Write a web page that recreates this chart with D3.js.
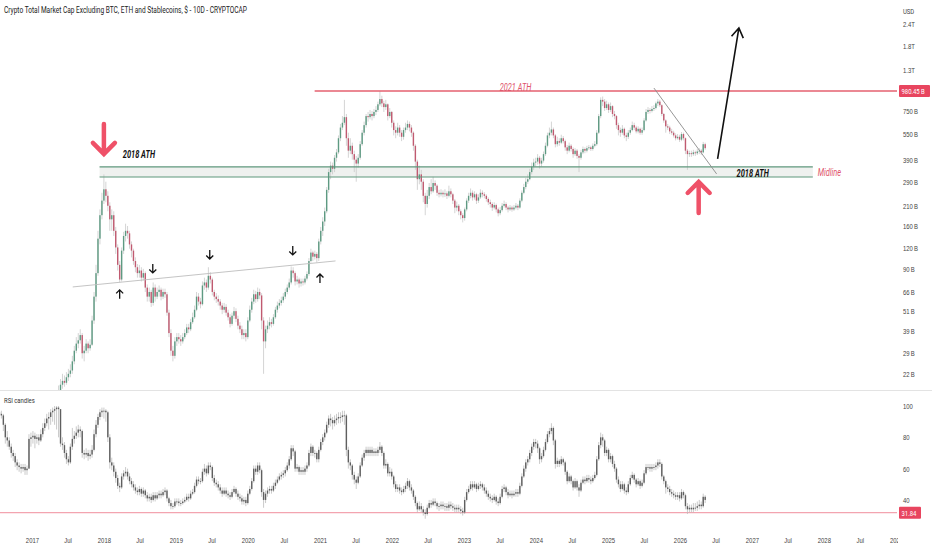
<!DOCTYPE html>
<html>
<head>
<meta charset="utf-8">
<script src="https://cdn.jsdelivr.net/npm/d3@7"></script>
<style>
  body { margin: 0; background: #fff; }
  svg { display: block; font-family: Roboto, "Liberation Sans", sans-serif; }
</style>
</head>
<body>
<div id="chart"></div>
<script>
// 10D candles, first one opens 2016-07-20
var startDate = new Date(2016, 6, 20);
var stepDays = 10;
var firstOpen = 2.9;
var rsiFirstOpen = 96;

// price in billions USD
var closes = [
  3.0,3.1,2.9,2.8,2.7,2.6,2.6,2.5,2.4,2.5,
  2.4,2.3,2.4,2.4,2.5,2.6,2.7,2.9,3.0,3.2,
  3.5,4.0,4.6,5.5,6.8,8.0,9.5,11.5,13.0,15.5,
  17.5,19,20,19.5,21,22,23,26,30,33,
  34.5,37,29,30,33,31,32.5,45,62,85,
  135,185,225,262,240,210,175,185,150,120,
  95,78,115,140,150,145,125,115,100,92,
  85,88,80,85,70,62,66,57,70,62,
  66,68,62,66,64,50,38,30,28,34,
  36,35,34,36,38,41,40,44,47,52,
  62,58,56,72,75,70,82,78,66,62,
  60,58,55,52,54,50,47,43,48,51,
  46,42,40,37,38,36,45,52,58,64,
  60,66,63,45,34,40,42,44,43,47,
  52,55,57,59,62,66,70,75,88,85,
  76,78,74,76,75,79,84,100,112,106,
  110,104,130,150,170,195,260,330,360,345,
  400,430,520,600,640,690,520,440,470,420,
  390,370,400,480,560,620,700,690,720,700,
  740,760,820,880,830,790,820,700,740,640,
  580,560,600,560,530,580,600,630,600,560,
  470,380,300,320,290,240,215,240,270,255,
  285,275,250,245,250,245,248,240,255,245,
  225,205,210,195,185,178,200,225,240,250,
  235,245,225,235,250,245,240,230,220,215,
  205,212,200,190,198,210,215,205,200,205,
  200,205,210,205,225,250,270,290,300,330,
  355,375,380,400,370,385,420,470,540,560,
  585,540,480,500,490,520,500,460,440,470,
  450,420,440,410,400,430,450,440,455,460,
  450,470,480,560,700,870,850,780,820,760,
  800,720,700,620,580,560,590,540,530,560,
  580,620,600,570,590,560,580,660,740,760,
  750,770,780,830,850,810,720,660,610,600,
  570,560,540,520,530,510,550,520,440,420,
  425,420,430,425,435,440,430,480,455
];
var highs = [
  3.2,3.3,3.2,3.0,2.9,2.8,2.7,2.7,2.6,2.6,
  2.6,2.5,2.5,2.5,2.6,2.7,2.8,3.0,3.2,3.4,
  3.7,4.2,4.9,5.9,7.2,8.6,10.2,12.3,14.2,16.8,
  18.8,20.5,22,21.5,22.5,23.5,25,28,32,36,
  38,40,38,32,35,34,35,48,66,95,
  150,200,250,320,290,255,220,200,195,158,
  125,100,120,148,165,160,150,130,118,105,
  96,95,92,90,87,73,70,68,75,73,
  70,72,70,69,69,66,52,40,32,36,
  38,38,37,38,40,43,43,46,50,55,
  66,65,61,76,80,78,92,86,80,68,
  65,63,60,57,57,56,52,49,50,54,
  53,48,44,42,40,40,47,55,61,68,
  67,70,69,65,47,42,45,47,46,49,
  54,58,60,62,65,69,73,79,93,92,
  87,82,80,79,79,82,87,104,118,115,
  115,113,135,158,180,205,270,345,380,375,
  415,450,540,630,700,870,720,560,520,490,
  440,410,420,500,580,650,720,740,760,750,
  770,800,850,980,920,860,870,830,780,750,
  660,610,640,620,580,600,640,660,650,620,
  570,480,390,360,340,300,250,260,285,300,
  310,295,280,260,262,258,262,255,275,265,
  250,230,222,215,200,190,205,232,250,265,
  258,255,250,245,262,258,252,245,235,228,
  220,220,216,205,206,218,225,220,210,212,
  210,212,218,215,232,258,282,305,320,345,
  375,395,400,420,410,400,435,490,560,600,
  650,600,550,530,520,545,535,510,475,490,
  480,460,455,450,420,445,465,460,470,475,
  470,485,500,580,720,900,910,880,860,840,
  840,810,750,710,640,600,620,600,560,580,
  600,650,640,615,610,600,600,680,770,790,
  780,800,810,850,880,870,820,730,670,630,
  615,590,575,555,550,545,565,560,525,450,
  440,440,445,440,450,455,450,495,490
];
var lows = [
  2.8,2.9,2.8,2.7,2.6,2.5,2.5,2.4,2.3,2.3,
  2.3,2.2,2.2,2.3,2.3,2.4,2.5,2.6,2.8,2.9,
  3.1,3.4,3.9,4.4,5.3,6.5,7.7,9.1,11.0,12.5,
  15.0,16.8,18,18.5,19,20,21,22,25,29,
  31,33,27,26,29,29,30,32,43,58,
  82,125,175,215,220,195,150,150,140,110,
  88,75,76,110,130,135,118,105,95,86,
  80,80,76,77,66,58,58,54,55,58,
  60,62,59,60,61,48,36,28,26,27,
  32,33,32,33,35,37,38,39,43,46,
  51,55,53,55,68,66,68,74,63,59,
  57,55,52,49,50,48,45,41,42,46,
  44,40,38,35,35,34,35,44,50,56,
  57,58,60,40,22,31,38,40,41,42,
  46,50,53,55,57,60,64,68,73,80,
  72,73,70,71,72,73,77,82,98,100,
  102,98,100,125,140,160,190,250,300,320,
  330,380,420,500,580,620,470,400,420,390,
  330,290,350,390,470,540,600,650,670,660,
  680,710,740,800,790,740,760,660,680,600,
  540,520,540,530,500,510,560,580,570,530,
  440,340,260,280,260,220,185,205,230,245,
  250,260,240,235,238,235,236,230,235,235,
  215,190,195,185,175,168,172,195,218,232,
  225,228,215,218,230,235,232,222,212,205,
  196,200,192,182,185,194,205,198,192,196,
  194,196,200,198,202,220,245,262,282,295,
  320,340,355,365,345,355,375,410,460,520,
  540,520,460,465,470,480,485,440,420,430,
  435,400,410,395,330,390,420,425,430,445,
  438,440,460,470,550,680,800,750,760,730,
  740,690,670,590,540,530,545,520,500,515,
  545,570,580,555,555,545,545,570,650,720,
  725,735,750,765,800,790,700,640,560,580,
  550,545,525,505,510,495,500,505,420,340,
  405,405,410,410,415,420,415,425,445
];

// RSI candles
var rsiClose = [
  95,94,88,80,78,74,70,68,64,62,
  61,60,61,59,60,79,80,81,79,80,
  78,82,86,89,92,93,96,97,98,99,
  98,76,75,70,66,64,74,79,81,83,
  85,84,70,69,70,68,69,72,82,88,
  93,96,97,97,96,80,64,62,58,54,
  49,48,55,57,58,55,52,50,48,46,
  45,47,44,46,43,41,42,40,43,41,
  43,44,43,45,46,41,38,36,36,39,
  39,38,38,39,40,42,41,44,45,49,
  53,52,52,58,60,57,62,61,54,51,
  50,48,46,44,46,44,43,42,45,47,
  44,42,41,39,40,38,44,47,52,60,
  58,62,59,45,40,44,46,47,46,49,
  51,53,55,56,57,59,62,66,73,71,
  60,61,58,59,58,60,62,70,74,70,
  70,66,72,77,80,83,88,92,91,89,
  91,92,93,93,94,94,72,64,62,56,
  53,51,55,62,67,70,72,70,72,70,
  71,70,72,74,70,62,63,57,58,55,
  50,47,48,46,45,47,49,52,48,46,
  42,38,34,36,34,32,31,35,38,37,
  39,38,36,36,37,36,36,35,37,36,
  35,34,35,34,33,32,40,45,47,50,
  48,50,47,49,50,48,46,44,42,41,
  40,42,39,38,42,47,48,45,43,44,
  43,44,45,44,49,55,60,64,66,70,
  74,77,76,73,66,68,72,77,82,84,
  86,78,63,65,63,66,64,58,52,55,
  52,48,52,48,46,51,53,52,54,53,
  52,54,56,66,75,80,78,70,72,66,
  68,63,60,53,50,47,50,46,45,50,
  54,56,53,50,52,49,51,57,61,61,
  60,61,61,62,64,63,55,52,48,47,
  45,44,43,42,43,41,45,43,36,34,
  35,34,35,35,36,37,36,42,40
];
var rsiHigh = [
  98,97,95,89,84,80,76,72,70,66,
  64,63,63,63,62,82,83,84,83,82,
  82,85,89,92,95,96,98,99,100,100,
  100,98,80,77,72,68,76,86,84,87,
  88,87,85,72,73,72,72,75,85,91,
  95,98,99,99,98,97,82,67,64,60,
  56,51,57,59,61,60,57,54,52,50,
  48,49,48,48,47,45,44,44,45,45,
  45,46,46,47,48,47,42,40,38,41,
  41,41,40,41,42,44,44,46,47,51,
  55,55,54,60,63,62,64,64,62,56,
  53,52,50,48,48,48,46,45,47,49,
  48,46,44,43,42,42,46,49,54,62,
  62,64,64,60,47,46,48,49,49,51,
  53,55,57,58,59,61,64,68,75,75,
  72,63,62,61,61,62,64,72,76,75,
  72,71,74,79,82,85,90,94,95,93,
  94,95,96,96,97,97,95,74,66,63,
  58,55,57,64,69,72,74,74,74,74,
  73,73,74,77,75,71,66,64,61,60,
  56,52,50,50,48,49,51,54,53,50,
  47,43,39,39,38,36,34,37,40,40,
  41,41,39,38,39,39,38,38,39,39,
  38,37,37,37,36,35,42,47,49,52,
  52,52,51,51,52,51,50,48,46,44,
  43,44,43,41,44,49,50,49,47,46,
  46,46,47,47,51,57,62,66,68,72,
  76,79,79,78,74,70,74,79,84,86,
  89,87,79,67,66,68,67,65,59,57,
  56,53,54,53,50,53,55,55,56,56,
  55,56,58,68,77,83,82,79,74,73,
  70,69,65,61,55,52,52,51,48,52,
  56,58,57,54,54,53,53,59,63,63,
  63,63,63,64,66,66,64,56,53,50,
  49,47,46,45,45,45,47,46,44,38,
  37,37,38,38,39,40,39,44,43
];
var rsiLow = [
  93,92,84,76,74,72,67,65,61,59,
  58,57,58,56,56,60,74,76,73,76,
  75,77,80,84,87,85,88,90,88,85,
  80,74,72,67,63,62,63,72,76,79,
  80,80,67,66,67,65,66,67,71,80,
  86,91,93,92,90,77,60,59,55,51,
  47,45,47,53,55,53,50,48,46,44,
  43,43,42,42,41,39,39,38,39,39,
  40,41,41,42,43,39,36,34,34,35,
  37,36,36,37,38,39,39,40,43,44,
  48,50,50,51,56,55,56,59,52,49,
  48,46,44,42,43,42,41,40,41,44,
  42,40,39,37,37,36,37,43,46,51,
  56,56,57,42,35,38,42,44,44,45,
  47,50,52,53,54,55,58,60,65,68,
  58,58,56,56,56,56,58,61,68,68,
  67,64,64,71,75,78,82,86,87,85,
  87,88,89,89,90,88,68,60,59,53,
  50,47,50,54,61,65,68,68,68,68,
  68,68,68,70,68,60,60,55,55,53,
  48,45,45,44,43,44,45,47,46,44,
  40,36,32,33,32,30,28,30,34,35,
  36,36,34,33,34,34,33,33,33,34,
  33,32,32,32,31,30,31,39,44,46,
  46,47,45,46,47,46,44,42,40,39,
  38,39,37,36,37,41,45,43,41,42,
  41,42,42,42,43,48,54,58,62,64,
  68,72,73,70,63,64,67,71,76,80,
  82,75,60,61,61,62,62,56,50,51,
  50,46,47,46,42,45,50,50,51,51,
  50,51,53,55,65,73,74,68,68,64,
  64,61,58,51,48,45,46,44,43,44,
  49,53,51,48,49,47,48,50,56,59,
  58,58,59,59,60,61,53,50,44,45,
  43,42,41,40,40,39,40,41,34,31,
  32,32,32,33,33,34,34,35,38
];

// axis ticks
var priceTicks = [2400, 1800, 1300, 750, 550, 390, 290, 210, 160, 120, 90, 66, 51, 39, 29, 22];
var rsiTicks = [100, 80, 60, 40];
var yearTicks = [2017,2018,2019,2020,2021,2022,2023,2024,2025,2026,2027,2028,2029];
var julTicks = [2017,2018,2019,2020,2021,2022,2023,2024,2025,2026,2027,2028];

// drawings
var ath2021 = { from: new Date(2020, 11, 5), value: 980.45 };
var rsiLevel = 31.84;
var athZone = { from: new Date(2017, 11, 10), to: new Date(2027, 10, 6), lo: 309, hi: 354 };
var riseLine = [[new Date(2017, 6, 27), 70.6], [new Date(2021, 2, 21), 100.1]];
var trendLine = [[new Date(2025, 7, 22), 1020], [new Date(2026, 6, 6), 322]];
var bigArrow = [[new Date(2026, 6, 11), 394], [new Date(2026, 9, 27), 2284]];
var redArrows = [
  { date: new Date(2018, 0, 1), from: 630, to: 421 },
  { date: new Date(2026, 3, 6), from: 190.6, to: 289 }
];
var smallArrows = [
  { date: new Date(2018, 2, 22), value: 67.9, dir: "up" },
  { date: new Date(2018, 8, 6), value: 85.2, dir: "down" },
  { date: new Date(2019, 5, 22), value: 102.8, dir: "down" },
  { date: new Date(2020, 7, 16), value: 108.5, dir: "down" },
  { date: new Date(2021, 0, 1), value: 84.1, dir: "up" }
];
var notes = [
  { text: "2018 ATH", date: new Date(2018, 3, 7), value: 418, anchor: "start", color: "#111", weight: "bold" },
  { text: "2021 ATH", date: new Date(2023, 8, 20), value: 1030, anchor: "middle", color: "#e0536a", weight: "normal" },
  { text: "2018 ATH", date: new Date(2027, 0, 5), value: 322, anchor: "middle", color: "#111", weight: "bold" },
  { text: "Midline", date: new Date(2027, 11, 1), value: 330, anchor: "start", color: "#e0536a", weight: "normal" }
];

var W = 932, H = 550, plotW = 897;
var mainBottom = 390, rsiTop = 391, rsiBottom = 522;
var squeeze = 0.74;

var x = d3.scaleTime()
  .domain([new Date(2016, 6, 23), new Date(2029, 0, 6)])
  .range([0, plotW]);
var y = d3.scaleLog().domain([17.7, 3326]).range([mainBottom, 0]);
var yr = d3.scaleLinear().domain([25.9, 109.6]).range([rsiBottom, rsiTop]);

var candles = closes.map(function(c, i) {
  return {
    date: d3.timeDay.offset(startDate, i * stepDays),
    open: i ? closes[i - 1] : firstOpen,
    close: c, high: highs[i], low: lows[i],
    ro: i ? rsiClose[i - 1] : rsiFirstOpen,
    rc: rsiClose[i], rh: rsiHigh[i], rl: rsiLow[i]
  };
});

var svg = d3.select("#chart").append("svg")
  .attr("width", W).attr("height", H);

var defs = svg.append("defs");
defs.append("clipPath").attr("id", "clipMain").append("rect")
  .attr("x", 0).attr("y", 0).attr("width", plotW).attr("height", mainBottom);
defs.append("clipPath").attr("id", "clipRsi").append("rect")
  .attr("x", 0).attr("y", rsiTop).attr("width", plotW).attr("height", rsiBottom - rsiTop);
defs.append("clipPath").attr("id", "clipTime").append("rect")
  .attr("x", 0).attr("y", 0).attr("width", 898).attr("height", H);

// pane separator
svg.append("line")
  .attr("x1", 0).attr("x2", W).attr("y1", mainBottom + 0.5).attr("y2", mainBottom + 0.5)
  .attr("stroke", "#e3e3e3");

var gMain = svg.append("g").attr("clip-path", "url(#clipMain)");

// 2018 ATH zone
gMain.append("rect")
  .attr("x", x(athZone.from)).attr("width", x(athZone.to) - x(athZone.from))
  .attr("y", y(athZone.hi)).attr("height", y(athZone.lo) - y(athZone.hi))
  .attr("fill", "#eff1ef");

// price candles
var bw = 1.4;
gMain.selectAll(".wick").data(candles).enter().append("line")
  .attr("class", "wick")
  .attr("x1", function(d) { return x(d.date); })
  .attr("x2", function(d) { return x(d.date); })
  .attr("y1", function(d) { return y(Math.max(d.high, d.open, d.close)); })
  .attr("y2", function(d) { return y(Math.min(d.low, d.open, d.close)); })
  .attr("stroke", "#c9c9c9").attr("stroke-width", 0.8);

gMain.selectAll(".body").data(candles).enter().append("rect")
  .attr("class", "body")
  .attr("x", function(d) { return x(d.date) - bw / 2; })
  .attr("width", bw)
  .attr("y", function(d) { return y(Math.max(d.open, d.close)); })
  .attr("height", function(d) { return Math.max(0.8, Math.abs(y(d.open) - y(d.close))); })
  .attr("fill", function(d) { return d.close >= d.open ? "#5e9a82" : "#c05a70"; });

[athZone.hi, athZone.lo].forEach(function(v) {
  gMain.append("line")
    .attr("x1", x(athZone.from)).attr("x2", x(athZone.to))
    .attr("y1", y(v)).attr("y2", y(v))
    .attr("stroke", "#5f977c").attr("stroke-width", 1.2);
});

// 2021 ATH line
gMain.append("line")
  .attr("x1", x(ath2021.from)).attr("x2", plotW)
  .attr("y1", y(ath2021.value)).attr("y2", y(ath2021.value))
  .attr("stroke", "#e4606f").attr("stroke-width", 1.3);

var line = d3.line()
  .x(function(d) { return x(d[0]); })
  .y(function(d) { return y(d[1]); });

gMain.append("path").datum(riseLine).attr("d", line)
  .attr("fill", "none").attr("stroke", "#bdbdbd").attr("stroke-width", 0.9);
gMain.append("path").datum(trendLine).attr("d", line)
  .attr("fill", "none").attr("stroke", "#8a8a8a").attr("stroke-width", 0.9);

// big black arrow
var p0 = [x(bigArrow[0][0]), y(bigArrow[0][1])];
var p1 = [x(bigArrow[1][0]), y(bigArrow[1][1])];
var ang = Math.atan2(p1[1] - p0[1], p1[0] - p0[0]);
var hl = 11, ha = Math.PI / 5.5;
gMain.append("path")
  .attr("d", "M" + p0 + "L" + p1 +
    "M" + [p1[0] - hl * Math.cos(ang - ha), p1[1] - hl * Math.sin(ang - ha)] +
    "L" + p1 +
    "L" + [p1[0] - hl * Math.cos(ang + ha), p1[1] - hl * Math.sin(ang + ha)])
  .attr("fill", "none").attr("stroke", "#111").attr("stroke-width", 1.6)
  .attr("stroke-linejoin", "miter");

// red thick arrows
gMain.selectAll(".redArrow").data(redArrows).enter().append("path")
  .attr("class", "redArrow")
  .attr("d", function(d) {
    var tx = x(d.date), ty = y(d.to), ty0 = y(d.from);
    var s = ty > ty0 ? -1 : 1; // head direction
    return "M" + tx + "," + ty0 + "L" + tx + "," + (ty + s * 2) +
      "M" + (tx - 11) + "," + (ty + s * 11) + "L" + tx + "," + ty + "L" + (tx + 11) + "," + (ty + s * 11);
  })
  .attr("fill", "none").attr("stroke", "#ef5168").attr("stroke-width", 4.5)
  .attr("stroke-linejoin", "miter").attr("stroke-linecap", "round");

// small black arrows
gMain.selectAll(".smallArrow").data(smallArrows).enter().append("path")
  .attr("class", "smallArrow")
  .attr("d", function(d) {
    var tx = x(d.date), ty = y(d.value), s = d.dir === "up" ? 1 : -1;
    return "M" + tx + "," + (ty + s * 9) + "L" + tx + "," + ty +
      "M" + (tx - 3.5) + "," + (ty + s * 3.5) + "L" + tx + "," + ty + "L" + (tx + 3.5) + "," + (ty + s * 3.5);
  })
  .attr("fill", "none").attr("stroke", "#111").attr("stroke-width", 1.3);

// annotation texts
svg.selectAll(".note").data(notes).enter().append("text")
  .attr("class", "note")
  .attr("x", function(d) { return x(d.date); })
  .attr("y", function(d) { return y(d.value); })
  .attr("dy", "0.35em")
  .attr("text-anchor", function(d) { return d.anchor; })
  .attr("fill", function(d) { return d.color; })
  .attr("font-weight", function(d) { return d.weight; })
  .attr("font-style", "italic")
  .attr("font-size", 10)
  .text(function(d) { return d.text; });

// RSI pane
var gRsi = svg.append("g").attr("clip-path", "url(#clipRsi)");
gRsi.append("line")
  .attr("x1", 0).attr("x2", plotW).attr("y1", yr(rsiLevel)).attr("y2", yr(rsiLevel))
  .attr("stroke", "#f08d9c").attr("stroke-width", 1);

gRsi.selectAll(".rwick").data(candles).enter().append("line")
  .attr("class", "rwick")
  .attr("x1", function(d) { return x(d.date); })
  .attr("x2", function(d) { return x(d.date); })
  .attr("y1", function(d) { return yr(Math.max(d.rh, d.ro, d.rc)); })
  .attr("y2", function(d) { return yr(Math.min(d.rl, d.ro, d.rc)); })
  .attr("stroke", "#bcbcbc").attr("stroke-width", 0.8);

gRsi.selectAll(".rbody").data(candles).enter().append("rect")
  .attr("class", "rbody")
  .attr("x", function(d) { return x(d.date) - bw / 2; })
  .attr("width", bw)
  .attr("y", function(d) { return yr(Math.max(d.ro, d.rc)); })
  .attr("height", function(d) { return Math.max(0.8, Math.abs(yr(d.ro) - yr(d.rc))); })
  .attr("fill", "#5f5f5f");

svg.append("text")
  .attr("x", 4).attr("y", rsiTop + 12)
  .attr("font-size", 8).attr("fill", "#333")
  .text("RSI candles");

// price axis
var fmtPrice = function(v) {
  return v >= 1000 ? (v / 1000).toFixed(1) + "T" : v + "\u2009B";
};
var axP = svg.append("g")
  .attr("transform", "translate(" + plotW + ",0)")
  .call(d3.axisRight(y).tickValues(priceTicks).tickFormat(fmtPrice).tickSize(0).tickPadding(6));
var axR = svg.append("g")
  .attr("transform", "translate(" + plotW + ",0)")
  .call(d3.axisRight(yr).tickValues(rsiTicks).tickSize(0).tickPadding(6));
[axP, axR].forEach(function(g) {
  g.select(".domain").remove();
  g.selectAll("text").attr("font-size", 8).attr("fill", "#444").attr("font-family", null);
});

// time axis
var timeTicks = [];
yearTicks.forEach(function(yv) { timeTicks.push(new Date(yv, 0, 1)); });
julTicks.forEach(function(yv) { timeTicks.push(new Date(yv, 6, 1)); });
var axT = svg.append("g")
  .attr("clip-path", "url(#clipTime)")
  .attr("transform", "translate(0," + 534 + ")")
  .call(d3.axisBottom(x).tickValues(timeTicks)
    .tickFormat(function(d) { return d.getMonth() === 6 ? "Jul" : d.getFullYear(); })
    .tickSize(0).tickPadding(3));
axT.select(".domain").remove();
axT.selectAll("text").attr("font-size", 8).attr("fill", "#444").attr("font-family", null);

// currency
svg.append("text").attr("x", 903).attr("y", 14)
  .attr("font-size", 8).attr("fill", "#444").text("USD");

// price tags
function tag(yPos, w, label) {
  svg.append("rect").attr("x", 899).attr("y", yPos - 6).attr("width", w).attr("height", 12)
    .attr("fill", "#e8455f").attr("rx", 1);
  svg.append("text").attr("x", 901.5).attr("y", yPos).attr("dy", "0.35em")
    .attr("font-size", 8).attr("fill", "#fff").text(label);
}
tag(y(ath2021.value), 31, "980.45\u2009B");
tag(yr(rsiLevel), 22, "31.84");

// condense every text like the reference
svg.selectAll("text").each(function() {
  var len = this.getComputedTextLength();
  d3.select(this).attr("textLength", len * squeeze).attr("lengthAdjust", "spacingAndGlyphs");
});

svg.append("text").attr("x", 4).attr("y", 13)
  .attr("font-size", 9.5).attr("fill", "#222")
  .attr("textLength", 243).attr("lengthAdjust", "spacingAndGlyphs")
  .text("Crypto Total Market Cap Excluding BTC, ETH and Stablecoins, $ - 10D - CRYPTOCAP");
</script>
</body>
</html>
